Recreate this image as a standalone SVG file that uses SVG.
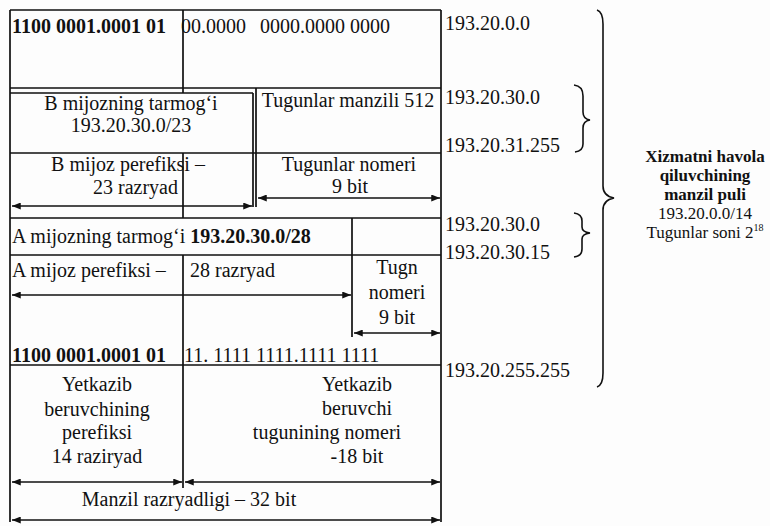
<svg xmlns="http://www.w3.org/2000/svg" width="770" height="526" viewBox="0 0 770 526">
<defs>
<marker id="ah" viewBox="0 0 10 8" refX="10" refY="4" markerWidth="9" markerHeight="7" markerUnits="userSpaceOnUse" orient="auto-start-reverse">
<path d="M0,0 L10,4 L0,8 z" fill="#111"/>
</marker>
<style>
.ln{stroke:#111;stroke-width:1.7;fill:none}
.ar{stroke:#111;stroke-width:1.6;fill:none;marker-start:url(#ah);marker-end:url(#ah)}
.br{stroke:#111;stroke-width:1.6;fill:none}
text{font-family:"Liberation Serif","Times New Roman",serif;font-size:20px;fill:#111}
.b{font-weight:bold}
.c{text-anchor:middle}
.r{font-size:17px}
</style>
</defs>
<rect width="770" height="526" fill="#fdfdfd"/>
<g id="connectors">
<path class="ln" d="M10,10 H441 M10,10 V522 M441,10 V522 M10,88 H441 M10,93 H253 M183,10 V93 M253,93 V207 M256,88 V207 M10,153 H441 M183,153 V218 M10,218 H441 M352,218 V337 M10,255 H441 M183,255 V488 M10,365 H441"/>
<path class="ar" d="M12,206 H252"/>
<path class="ar" d="M258,198 H440"/>
<path class="ar" d="M12,295 H351"/>
<path class="ar" d="M354,333 H440"/>
<path class="ar" d="M12,482 H182"/>
<path class="ar" d="M185,482 H440"/>
<path class="ar" d="M12,520 H440"/>
</g>
<g id="row1">
<text x="12" y="33" class="b">1100 0001.0001 01</text>
<text x="181" y="33">00.0000</text>
<text x="260" y="33">0000.0000 0000</text>
</g>
<g id="b-network">
<text x="131" y="110" class="c">B mijozning tarmog‘i</text>
<text x="131" y="132" class="c">193.20.30.0/23</text>
</g>
<g id="nodes-512">
<text x="348" y="107" class="c">Tugunlar manzili 512</text>
</g>
<g id="b-prefix">
<text x="128" y="171" class="c">B mijoz perefiksi –</text>
<text x="178" y="194" text-anchor="end">23 razryad</text>
</g>
<g id="b-hosts">
<text x="349" y="171" class="c">Tugunlar nomeri</text>
<text x="350" y="193" class="c">9 bit</text>
</g>
<g id="a-network">
<text x="12" y="243">A mijozning tarmog‘i <tspan class="b">193.20.30.0/28</tspan></text>
</g>
<g id="a-prefix">
<text x="12" y="277">A mijoz perefiksi –</text>
<text x="190" y="277">28 razryad</text>
</g>
<g id="a-hosts">
<text x="397" y="274" class="c">Tugn</text>
<text x="397" y="299" class="c">nomeri</text>
<text x="397" y="324" class="c">9 bit</text>
</g>
<g id="row-last">
<text x="12" y="362" class="b">1100 0001.0001 01</text>
<text x="184" y="362">11. 1111 1111.1111 1111</text>
</g>
<g id="provider-prefix">
<text x="97" y="391" class="c">Yetkazib</text>
<text x="97" y="416" class="c">beruvchining</text>
<text x="97" y="439" class="c">perefiksi</text>
<text x="97" y="463" class="c">14 raziryad</text>
</g>
<g id="provider-host">
<text x="357" y="391" class="c">Yetkazib</text>
<text x="357" y="415" class="c">beruvchi</text>
<text x="327" y="439" class="c">tugunining nomeri</text>
<text x="357" y="463" class="c">-18 bit</text>
</g>
<g id="address-width">
<text x="189" y="506" class="c">Manzil razryadligi – 32 bit</text>
</g>
<g id="addresses">
<text x="445" y="30">193.20.0.0</text>
<text x="445" y="104">193.20.30.0</text>
<text x="445" y="152">193.20.31.255</text>
<text x="445" y="231">193.20.30.0</text>
<text x="445" y="259">193.20.30.15</text>
<text x="445" y="377">193.20.255.255</text>
</g>
<g id="brackets">
<path class="br" d="M597,10 Q603,12 603,24 L603,186 Q603,196 614,198 Q603,200 603,210 L603,373 Q603,385 597,387"/>
<path class="br" d="M574,85 Q583,86 583,96 L583,112 Q583,119 590,120 Q583,121 583,128 L583,144 Q583,151 575,152"/>
<path class="br" d="M574,213 Q582,214 582,221 L582,227 Q582,232 590,233 Q582,234 582,239 L582,249 Q582,256 574,257"/>
</g>
<g id="pool-label">
<text x="705" y="162" class="c r b">Xizmatni havola</text>
<text x="705" y="181" class="c r b">qiluvchining</text>
<text x="705" y="200" class="c r b">manzil puli</text>
<text x="705" y="219" class="c r">193.20.0.0/14</text>
<text x="705" y="238" class="c r">Tugunlar soni 2<tspan font-size="10" dy="-7">18</tspan></text>
</g>
</svg>
